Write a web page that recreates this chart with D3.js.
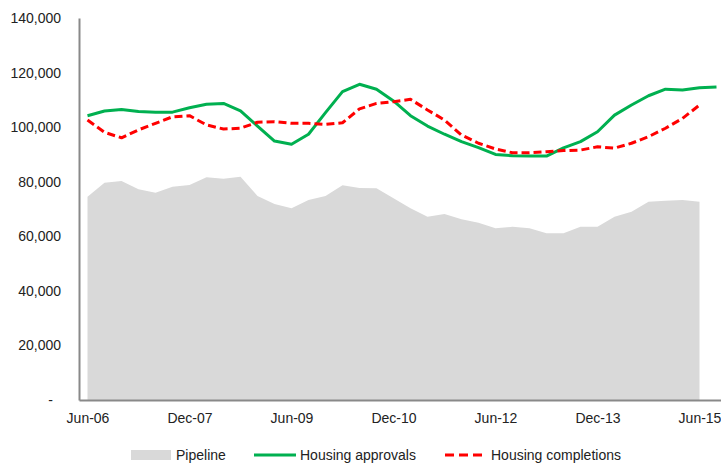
<!DOCTYPE html>
<html>
<head>
<meta charset="utf-8">
<script src="https://cdn.jsdelivr.net/npm/d3@7"></script>
<style>
  body { margin: 0; background: #fff; }
  text { font-family: "Liberation Sans", Arial, sans-serif; fill: #222; }
</style>
</head>
<body>
<svg id="chart" width="721" height="464"></svg>
<script>
// quarterly categories, Jun-06 .. Sep-15
var quarters = ["Jun-06","Sep-06","Dec-06","Mar-07","Jun-07","Sep-07","Dec-07","Mar-08","Jun-08","Sep-08",
  "Dec-08","Mar-09","Jun-09","Sep-09","Dec-09","Mar-10","Jun-10","Sep-10","Dec-10","Mar-11",
  "Jun-11","Sep-11","Dec-11","Mar-12","Jun-12","Sep-12","Dec-12","Mar-13","Jun-13","Sep-13",
  "Dec-13","Mar-14","Jun-14","Sep-14","Dec-14","Mar-15","Jun-15","Sep-15"];

var pipeline = [74500, 79600, 80300, 77200, 76000, 78200, 78800, 81600, 81100, 81800,
  74800, 71800, 70300, 73300, 74800, 78700, 77700, 77600, 73900, 70300,
  67200, 68200, 66200, 65000, 62900, 63500, 62900, 61100, 61100, 63500,
  63500, 67200, 69000, 72700, 73000, 73300, 72700, null];

var approvals = [104200, 105900, 106500, 105700, 105500, 105500, 107100, 108400, 108700, 106000,
  100400, 94900, 93700, 97400, 105300, 113000, 115700, 113900, 109600, 104200,
  100400, 97400, 94700, 92500, 90000, 89500, 89400, 89400, 92400, 94700,
  98300, 104400, 108100, 111500, 113900, 113600, 114400, 114700];

var completions = [102600, 98100, 96100, 99000, 101400, 103800, 104200, 100800, 99300, 99600,
  101800, 102000, 101400, 101400, 101000, 101600, 106700, 108700, 109300, 110200,
  106300, 102600, 97100, 94100, 92000, 90600, 90600, 91000, 91400, 91600,
  92800, 92300, 94100, 96500, 99600, 103200, 108100, null];

var yTicks = [0, 20000, 40000, 60000, 80000, 100000, 120000, 140000];

var svg = d3.select("#chart");
var plotLeft = 79, plotBottom = 400, plotTop = 18;

var x = d3.scalePoint().domain(quarters).range([plotLeft, 725]).padding(0.5);
var y = d3.scaleLinear().domain([0, 140000]).range([plotBottom, plotTop]);

// pipeline area
var area = d3.area()
  .defined(function(d){ return d != null; })
  .x(function(d, i){ return x(quarters[i]); })
  .y0(y(0))
  .y1(function(d){ return y(d); });

svg.append("path").datum(pipeline)
  .attr("d", area)
  .attr("fill", "#d9d9d9");

var line = d3.line()
  .defined(function(d){ return d != null; })
  .x(function(d, i){ return x(quarters[i]); })
  .y(function(d){ return y(d); });

svg.append("path").datum(approvals)
  .attr("d", line)
  .attr("fill", "none")
  .attr("stroke", "#00b050")
  .attr("stroke-width", 3)
  .attr("stroke-linejoin", "round");

svg.append("path").datum(completions)
  .attr("d", line)
  .attr("fill", "none")
  .attr("stroke", "#ff0000")
  .attr("stroke-width", 3)
  .attr("stroke-dasharray", "8,4")
  .attr("stroke-linejoin", "round");

// axes
var fmt = d3.format(",");
var yAxis = svg.append("g")
  .attr("transform", "translate(" + plotLeft + ",0)")
  .call(d3.axisLeft(y).tickValues(yTicks).tickSize(0).tickPadding(18)
    .tickFormat(function(d){ return d === 0 ? "-" : fmt(d); }));
yAxis.selectAll("text").style("font-size", "14px")
  .attr("x", function(d){ return d === 0 ? -26 : -18; });

var xAxis = svg.append("g")
  .attr("transform", "translate(0," + plotBottom + ")")
  .call(d3.axisBottom(x)
    .tickValues(quarters.filter(function(d, i){ return i % 6 === 0; }))
    .tickSize(0).tickPadding(13));
xAxis.selectAll("text").style("font-size", "14px");

svg.selectAll(".domain").attr("stroke", "#898989").attr("stroke-width", 2);

// legend
var lg = svg.append("g").style("font-size", "14px");
lg.append("rect").attr("x", 131).attr("y", 450).attr("width", 40).attr("height", 10).attr("fill", "#d9d9d9");
lg.append("text").attr("x", 176).attr("y", 460).text("Pipeline");
lg.append("line").attr("x1", 254).attr("x2", 296).attr("y1", 455).attr("y2", 455)
  .attr("stroke", "#00b050").attr("stroke-width", 3);
lg.append("text").attr("x", 300).attr("y", 460).text("Housing approvals");
lg.append("line").attr("x1", 445).attr("x2", 483).attr("y1", 455).attr("y2", 455)
  .attr("stroke", "#ff0000").attr("stroke-width", 3).attr("stroke-dasharray", "9,5");
lg.append("text").attr("x", 491).attr("y", 460).text("Housing completions");
</script>
</body>
</html>
